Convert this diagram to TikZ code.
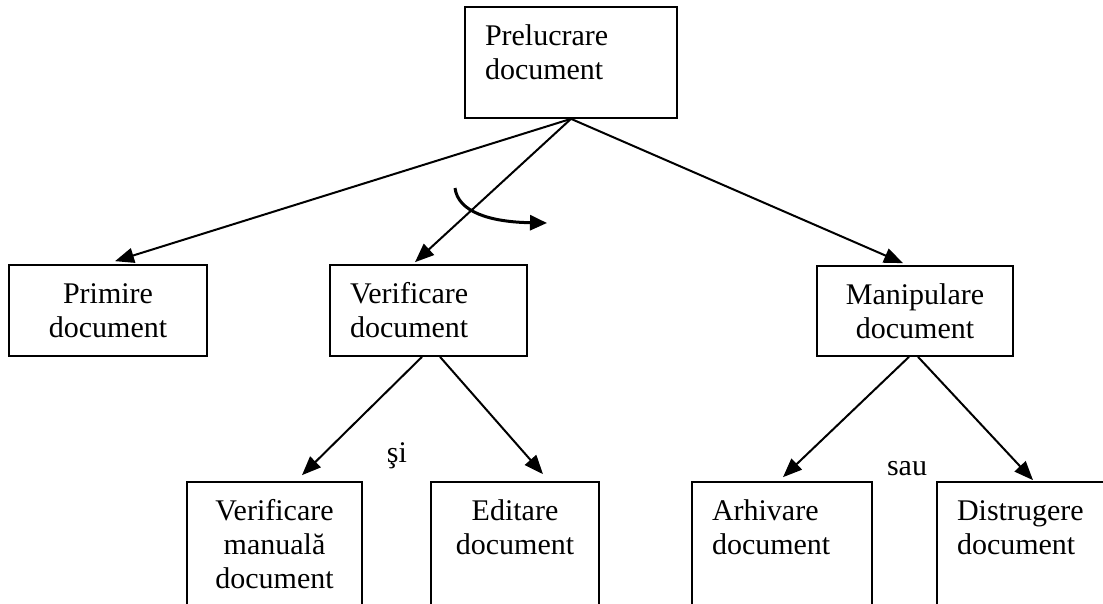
\documentclass[tikz,border=0pt]{standalone}
\usepackage{fontspec}
\setmainfont{Liberation Serif}
\usetikzlibrary{arrows.meta}

% box contents: fixed-size parbox, first baseline 38.5pt below the top edge
\newcommand\cellc[3]{\parbox[c][#2][t]{#1}{\centering\vspace*{14.7pt}\strut #3\par}}
\newcommand\celll[4]{\parbox[c][#2][t]{#1}{\raggedright\leftskip=#3\relax\vspace*{14.7pt}\strut #4\par}}

\tikzset{
  txt/.style={font=\fontsize{30}{34}\selectfont},
  box/.style={txt, draw, rectangle, line width=1.7pt, inner sep=0pt},
  lbl/.style={txt, inner sep=0pt},
  conn/.style={line width=2pt, -{Triangle[length=19pt,width=15pt]}},
  turn/.style={line width=3pt, -{Triangle[length=17pt,width=15pt]}}
}

\begin{document}
\begin{tikzpicture}[x=1pt, y=-1pt]
\clip (0,0) rectangle (1103,603);
\fill[white] (0,0) rectangle (1103,603);

% upper levels
\node[box] (top)   at (571,62.5)   {\celll{212pt}{111pt}{20pt}{Prelucrare\\document}};
\node[box] (prim)  at (108,310.5)  {\cellc{198pt}{91pt}{Primire\\document}};
\node[box] (ver)   at (428.5,310.5){\celll{197pt}{91pt}{20pt}{Verificare\\document}};
\node[box] (manip) at (915,311)    {\cellc{196pt}{90pt}{Manipulare\\document}};

% lowest level (boxes run past the lower edge)
\node[box] (vm)   at (274.5,552) {\cellc{175pt}{140pt}{Verificare\\manuală\\document}};
\node[box] (edit) at (515,552)   {\cellc{168pt}{140pt}{Editare\\document}};
\node[box] (arh)  at (782,552)   {\celll{180pt}{140pt}{20pt}{Arhivare\\document}};
\node[box] (dist) at (1028.5,552){\celll{183pt}{140pt}{20pt}{Distrugere\\document}};

% connector labels
\node[lbl, anchor=base] (si)  at (397,462) {şi};
\node[lbl, anchor=base] (sau) at (907,475) {sau};

% connectors
\draw[conn] (top.south) -- ([xshift=7pt,yshift=3pt]prim.north);
\draw[conn] (top.south) -- ([xshift=-13.5pt,yshift=2pt]ver.north);
\draw[conn] (top.south) -- ([xshift=-12pt,yshift=2pt]manip.north);
\draw[conn] ([xshift=-6.5pt]ver.south) -- ([xshift=27.5pt,yshift=6pt]vm.north);
\draw[conn] ([xshift=11.5pt]ver.south) -- ([xshift=28pt,yshift=7pt]edit.north);
\draw[conn] ([xshift=-6pt]manip.south) -- ([xshift=1pt,yshift=4pt]arh.north);
\draw[conn] ([xshift=3pt]manip.south) -- ([xshift=4.5pt,yshift=1pt]dist.north);

% curved arrow across the middle branch
\coordinate (t0) at (455,188);
\coordinate (t1) at (547,223);
\draw[turn] (t0) .. controls (458,212) and (490,222) .. (t1);
\end{tikzpicture}
\end{document}
